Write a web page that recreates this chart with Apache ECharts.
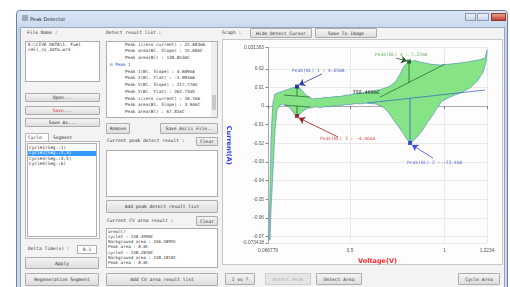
<!DOCTYPE html>
<html>
<head>
<meta charset="utf-8">
<title>Peak Detector</title>
<script src="https://cdn.jsdelivr.net/npm/echarts@6/dist/echarts.min.js"></script>
<style>
  html, body { margin: 0; padding: 0; background: #fff; }
  body { width: 510px; height: 287px; position: relative; overflow: hidden;
         font-family: "DejaVu Sans Mono", monospace; font-size: 4.6px; color: #333; }
  .abs { position: absolute; box-sizing: border-box; }
  .btn { background: linear-gradient(#f4f4f4, #dedede); border: 1px solid #acacac; border-radius: 1px;
         display: flex; align-items: center; justify-content: center; white-space: pre; }
  .box { background: #fff; border: 1px solid #abadb3; }
  .txt { white-space: pre; line-height: 6px; height: 6px; }
  #chart { position: absolute; left: 0; top: 0; width: 510px; height: 287px; z-index: 5; }
</style>
</head>
<body>
<div id="ui"></div>
<div id="chart"></div>
<script>
// forward scan (upper branch)
const fwdVolt = [0.0721, 0.0747, 0.0773, 0.0800, 0.0826, 0.0879, 0.0932, 0.1038, 0.1302, 0.1619, 0.1936, 0.2200,
  0.2411, 0.2675, 0.2992, 0.3200, 0.3415, 0.3680, 0.3943, 0.4200, 0.4472, 0.4740, 0.5000, 0.5264, 0.5528, 0.5800,
  0.6056, 0.6320, 0.6585, 0.7113, 0.7430, 0.7641, 0.7852, 0.8116, 0.8433, 0.8697, 0.9226, 0.9754, 1.0282, 1.0811,
  1.1339, 1.1867, 1.2131, 1.2234];
const fwdCurr = [-0.0718, -0.0584, -0.0450, -0.0316, -0.0182, -0.0064, 0.0021, 0.0064, 0.0075, 0.0086, 0.0097, 0.0105,
  0.0091, 0.0059, 0.0038, 0.0042, 0.0040, 0.0047, 0.0046, 0.0052, 0.0051, 0.0058, 0.0060, 0.0066, 0.0068, 0.0074,
  0.0077, 0.0084, 0.0088, 0.0107, 0.0134, 0.0172, 0.0214, 0.0239, 0.0244, 0.0236, 0.0225, 0.0220, 0.0225, 0.0231,
  0.0239, 0.0249, 0.0257, 0.0300];
// reverse scan (lower branch)
const revVolt = [1.2186, 1.2027, 1.1763, 1.1339, 1.0811, 1.0282, 0.9859, 0.9595, 0.9331, 0.9067, 0.8803, 0.8539,
  0.8327, 0.8169, 0.7958, 0.7799, 0.7535, 0.7271, 0.7007, 0.6743, 0.6373, 0.5898, 0.5600, 0.5264, 0.5000, 0.4736,
  0.4470, 0.4207, 0.3940, 0.3679, 0.3415, 0.3151, 0.2960, 0.2781, 0.2517, 0.2305, 0.2147, 0.1989, 0.1778, 0.1513,
  0.1302, 0.1143, 0.1038, 0.0932, 0.0826, 0.0773];
const revCurr = [0.0236, 0.0182, 0.0139, 0.0097, 0.0070, 0.0048, 0.0027, -0.0011, -0.0054, -0.0091, -0.0134, -0.0166,
  -0.0188, -0.0198, -0.0172, -0.0145, -0.0107, -0.0070, -0.0032, -0.0005, 0.0011, 0.0016, 0.0012, 0.0013, 0.0008, 0.0007,
  0.0001, 0.0003, -0.0004, -0.0003, -0.0008, -0.0004, -0.0010, -0.0011, -0.0027, -0.0048, -0.0054, -0.0032, -0.0005, 0.0011,
  0.0005, -0.0021, -0.0129, -0.0343, -0.0558, -0.0718];

const xTicks = [0.066779, 0.5, 1, 1.2234];
const yTicks = [-0.073418, -0.07, -0.06, -0.05, -0.04, -0.03, -0.02, -0.01, 0, 0.01, 0.02, 0.031393];

// detected peaks
const peakNames = ['Peak(BL) 1 : 4.65mA', 'Peak(BL) 2 : -23.4mA', 'Peak(BL) 3 : -4.46mA', 'Peak(BL) 4 : 7.22mA'];
const peakVolt = [0.2200, 0.8169, 0.2200, 0.8116];
const peakCurr = [0.01046, -0.01984, -0.00536, 0.02386];
const baseVolt0 = [0.1513, 0.5898, 0.1513, 0.6585];
const baseCurr0 = [0.0059, 0.0016, 0.0005, 0.0048];
const baseVolt1 = [0.2886, 1.2131, 0.2886, 1.0018];
const baseCurr1 = [0.0048, 0.0086, -0.0005, 0.0225];
const baseAtPeak = [0.0054, 0.0042, 0.0000, 0.0127];
const areaText = '758.409mC';

// where the annotation texts and arrows sit (layout)
const labelAt = [[0.1936, 0.0188], [0.8010, -0.0306], [0.3415, -0.0177], [0.6320, 0.0274]];
const arrowFrom = [[0.3520, 0.0172], [0.9384, -0.0279], [0.4366, -0.0166], [0.7429, 0.0257]];
const arrowTo = [[0.2305, 0.0113], [0.8275, -0.0209], [0.2305, -0.0064], [0.8010, 0.0241]];
const areaAt = [0.5860, 0.0070];

const markColor = ['#0a1a80', '#1530d0', '#8a1010', '#0f4f0f'];
const textColor = ['#2a3ac8', '#3a48e0', '#d03030', '#3a9a3a'];
const baseColor = ['#2f6f3f', '#3a6fc0', '#2f6f3f', '#2f6f3f'];
const arrowColor = ['#2a3aa8', '#3a4ae0', '#9a2020', '#1f5f1f'];

// ---------- window chrome ----------
const ui = document.getElementById('ui');
function add(cls, x, y, w, h, text, style) {
  const d = document.createElement('div');
  d.className = 'abs ' + cls;
  Object.assign(d.style, { left: x + 'px', top: y + 'px', width: w + 'px', height: h + 'px' }, style || {});
  if (text != null) d.textContent = text;
  ui.appendChild(d);
  return d;
}
function txt(x, cy, s, style) {
  const d = document.createElement('div');
  d.className = 'abs txt';
  Object.assign(d.style, { left: x + 'px', top: (cy - 3) + 'px' }, style || {});
  d.textContent = s;
  ui.appendChild(d);
  return d;
}

add('', 16, 10, 492, 280, null, { background: 'linear-gradient(#dbe7f5, #c4d6ec 20px, #c9daee)', border: '1px solid #71819a', borderRadius: '4px 4px 0 0' });
add('', 22, 15, 6, 6, null, { background: '#9ab', borderRadius: '1px' });
txt(30, 18.5, 'Peak Detector', { fontFamily: '"DejaVu Sans", sans-serif', fontSize: '5px', color: '#223' });
add('', 465, 13, 11, 8, null, { background: 'linear-gradient(#eef3fa, #c9d6e6)', border: '1px solid #8a9ab0' });
add('', 477, 13, 12, 8, null, { background: 'linear-gradient(#eef3fa, #c9d6e6)', border: '1px solid #8a9ab0' });
add('', 491, 13, 15, 8, null, { background: 'linear-gradient(#eaa090, #c4402e)', border: '1px solid #8a3a30' });
add('', 20, 27, 485, 262, null, { background: '#f3f3f3', border: '1px solid #98a8bc' });

// left column
txt(27, 33, 'File Name :');
add('box', 25, 41, 75, 41);
txt(28, 44.5, 'E:\\CIVE DATA\\1. Fuel', { fontSize: '4.4px' });
txt(28, 49.5, 'cell_cv_data.wrd', { fontSize: '4.4px' });
add('btn', 25, 93, 75, 9, 'Open...');
add('btn', 25, 106, 75, 9, 'Save...', { color: '#e03030' });
add('btn', 25, 118, 75, 9, 'Save As...');
add('', 25, 133, 24, 9, null, { background: '#fff', border: '1px solid #b8b8b8', borderBottom: 'none' });
txt(28, 137.5, 'Cycle');
txt(53, 137.5, 'Segment');
add('', 25, 141, 75, 98, null, { background: '#fff', border: '1px solid #b8b8b8' });
add('box', 27, 143, 70, 94);
const cycles = ['Cycle1(Seg.:1)', 'Cycle2(Seg.:2,3)', 'Cycle3(Seg.:4,5)', 'Cycle4(Seg.:6)'];
cycles.forEach((c, i) => {
  const cy = 148 + i * 5.4;
  if (i === 1) add('', 28, cy - 2.7, 68, 5.4, null, { background: '#3399ff' });
  txt(29, cy, c, { fontSize: '4.4px', color: i === 1 ? '#fff' : '#333' });
});
txt(28, 249, 'Delta Time(s) :');
add('box', 77, 245, 20, 9);
txt(87, 249.5, '0.1', { transform: 'translateX(-50%)' });
add('btn', 25, 257, 74, 12, 'Apply');
add('btn', 25, 273, 74, 13, 'Regeneration Segment');

// middle column
txt(106, 33, 'Detect result list :');
add('box', 106, 41, 112, 77);
add('', 211, 42, 6, 75, null, { background: '#eee' });
add('', 212, 95, 4, 15, null, { background: '#c8c8c8' });
const tree = [
  [125, 'Peak i(zero current) : 22.683mA'],
  [125, 'Peak area(Bl. Slope) : 15.60mC'],
  [125, 'Peak area(Bl) : 138.853mC'],
  [110, '\u229f Peak 1'],
  [125, 'Peak I(Bl. Slope) : 4.609mA'],
  [125, 'Peak I(Bl. Flat) : -5.093mA'],
  [125, 'Peak V(Bl. Slope) : 217.77mV'],
  [125, 'Peak V(Bl. Flat) : 262.73mV'],
  [125, 'Peak i(zero current) : 10.1mA'],
  [125, 'Peak area(Bl. Slope) : 3.94mC'],
  [125, 'Peak area(Bl) : 67.81mC']
];
tree.forEach((t, i) => txt(t[0], 44.5 + i * 6.75, t[1], { fontSize: '4.3px', color: t[0] === 110 ? '#2040c0' : '#333' }));
add('btn', 106, 123, 24, 11, 'Remove');
add('btn', 160, 123, 58, 11, 'Save Ascii File..');
txt(107, 141, 'Current peak detect result :');
add('btn', 196, 137, 22, 9, 'Clear');
add('box', 106, 150, 112, 47);
add('btn', 106, 200, 112, 13, 'Add peak detect result list');
txt(107, 221, 'Current CV area result :');
add('btn', 196, 216, 22, 10, 'Clear');
add('box', 106, 228, 112, 40);
const cvLines = ['area(C)', 'cycle1 : 248.4990C', 'Background area : 256.5899C', 'Peak area : 8.0C',
  'cycle2 : 248.2810C', 'Background area : 248.1810C', 'Peak area : 8.0C'];
cvLines.forEach((s, i) => txt(108, 231.5 + i * 5.3, s, { fontSize: '4.2px' }));
add('btn', 106, 273, 112, 13, 'Add CV area result list');

// right column
txt(222, 33, 'Graph :');
add('btn', 250, 28, 62, 10, 'Hide Detect Cursor');
add('btn', 315, 28, 62, 10, 'Save To Image');
add('', 222, 39, 281, 226, null, { background: '#fdfdfd', border: '1px solid #c8c8c8' });
add('btn', 225, 273, 30, 12, 'I vs ?');
add('btn', 265, 273, 46, 12, 'Detect Peak', { color: '#a8a8a8', background: '#e6e6e6', borderColor: '#cfcfcf' });
add('btn', 316, 273, 46, 12, 'Detect Area');
add('btn', 458, 273, 42, 12, 'Cycle Area');

// ---------- chart ----------
const loop = fwdVolt.map((v, i) => [v, fwdCurr[i]]).concat(revVolt.map((v, i) => [v, revCurr[i]]));

const series = [{
  type: 'custom',
  silent: true,
  z: 1,
  data: [loop[0]],
  renderItem: function (params, api) {
    return {
      type: 'polygon',
      shape: { points: loop.map(p => api.coord(p)) },
      style: { fill: '#86e486', stroke: '#4a84c0', lineWidth: 0.6 }
    };
  }
}];

peakNames.forEach((name, k) => {
  series.push({
    type: 'line', silent: true, symbol: 'none', z: 2,
    lineStyle: { color: baseColor[k], width: 0.8 },
    data: [[baseVolt0[k], baseCurr0[k]], [baseVolt1[k], baseCurr1[k]]]
  });
  series.push({
    type: 'line', silent: true, symbol: 'none', z: 2,
    lineStyle: { color: baseColor[k], width: 0.9 },
    data: [[peakVolt[k], peakCurr[k]], [peakVolt[k], baseAtPeak[k]]]
  });
  series.push({
    type: 'lines', coordinateSystem: 'cartesian2d', silent: true, z: 3,
    symbol: ['none', 'arrow'], symbolSize: 6,
    lineStyle: { color: arrowColor[k], width: 0.8, opacity: 1 },
    data: [{ coords: [arrowFrom[k], arrowTo[k]] }]
  });
  series.push({
    type: 'scatter', silent: true, z: 4, symbol: 'rect', symbolSize: 4,
    itemStyle: { color: markColor[k] },
    data: [[peakVolt[k], peakCurr[k]]]
  });
  series.push({
    type: 'scatter', silent: true, z: 4, symbolSize: 0.1,
    itemStyle: { color: 'transparent' },
    label: { show: true, position: 'right', distance: 0, formatter: name,
      color: textColor[k], fontSize: 4.6, fontFamily: 'DejaVu Sans Mono' },
    data: [labelAt[k]]
  });
});

series.push({
  type: 'scatter', silent: true, z: 4, symbolSize: 0.1,
  itemStyle: { color: 'transparent' },
  label: { show: true, position: 'inside', formatter: areaText,
    color: '#1c301c', fontSize: 5, fontWeight: 'bold', fontFamily: 'DejaVu Sans Mono' },
  data: [areaAt]
});

const myChart = echarts.init(document.getElementById('chart'));
const option = {
  backgroundColor: 'transparent',
  animation: false,
  grid: { left: 268, right: 23, top: 47.5, bottom: 44, outerBoundsMode: 'none' },
  xAxis: {
    type: 'value', min: 0.066779, max: 1.2234,
    name: 'Voltage(V)', nameLocation: 'middle', nameGap: 15,
    nameTextStyle: { color: '#ff2a2a', fontWeight: 'bold', fontSize: 6.5, fontFamily: 'DejaVu Sans' },
    axisLine: { lineStyle: { color: '#9a9a9a', width: 0.8 } },
    axisTick: { customValues: xTicks, length: 3, lineStyle: { color: '#666', width: 0.8 } },
    axisLabel: { customValues: xTicks, fontSize: 4.8, color: '#555', margin: 5, formatter: v => String(v) },
    splitLine: { show: true, lineStyle: { color: '#e2e2e2', width: 0.8 } }
  },
  yAxis: {
    type: 'value', min: -0.073418, max: 0.031393,
    name: 'Current(A)', nameLocation: 'middle', nameGap: 36, nameRotate: -90,
    nameTextStyle: { color: '#2a3ae8', fontWeight: 'bold', fontSize: 6.5, fontFamily: 'DejaVu Sans' },
    axisLine: { show: true, lineStyle: { color: '#9a9a9a', width: 0.8 } },
    axisTick: { show: true, customValues: yTicks, length: 2.5, lineStyle: { color: '#666', width: 0.8 } },
    axisLabel: { customValues: yTicks, fontSize: 4.8, color: '#555', margin: 4, formatter: v => String(v) },
    splitLine: { show: true, lineStyle: { color: '#e2e2e2', width: 0.8 } }
  },
  series: series
};
option && myChart.setOption(option);
</script>
</body>
</html>
